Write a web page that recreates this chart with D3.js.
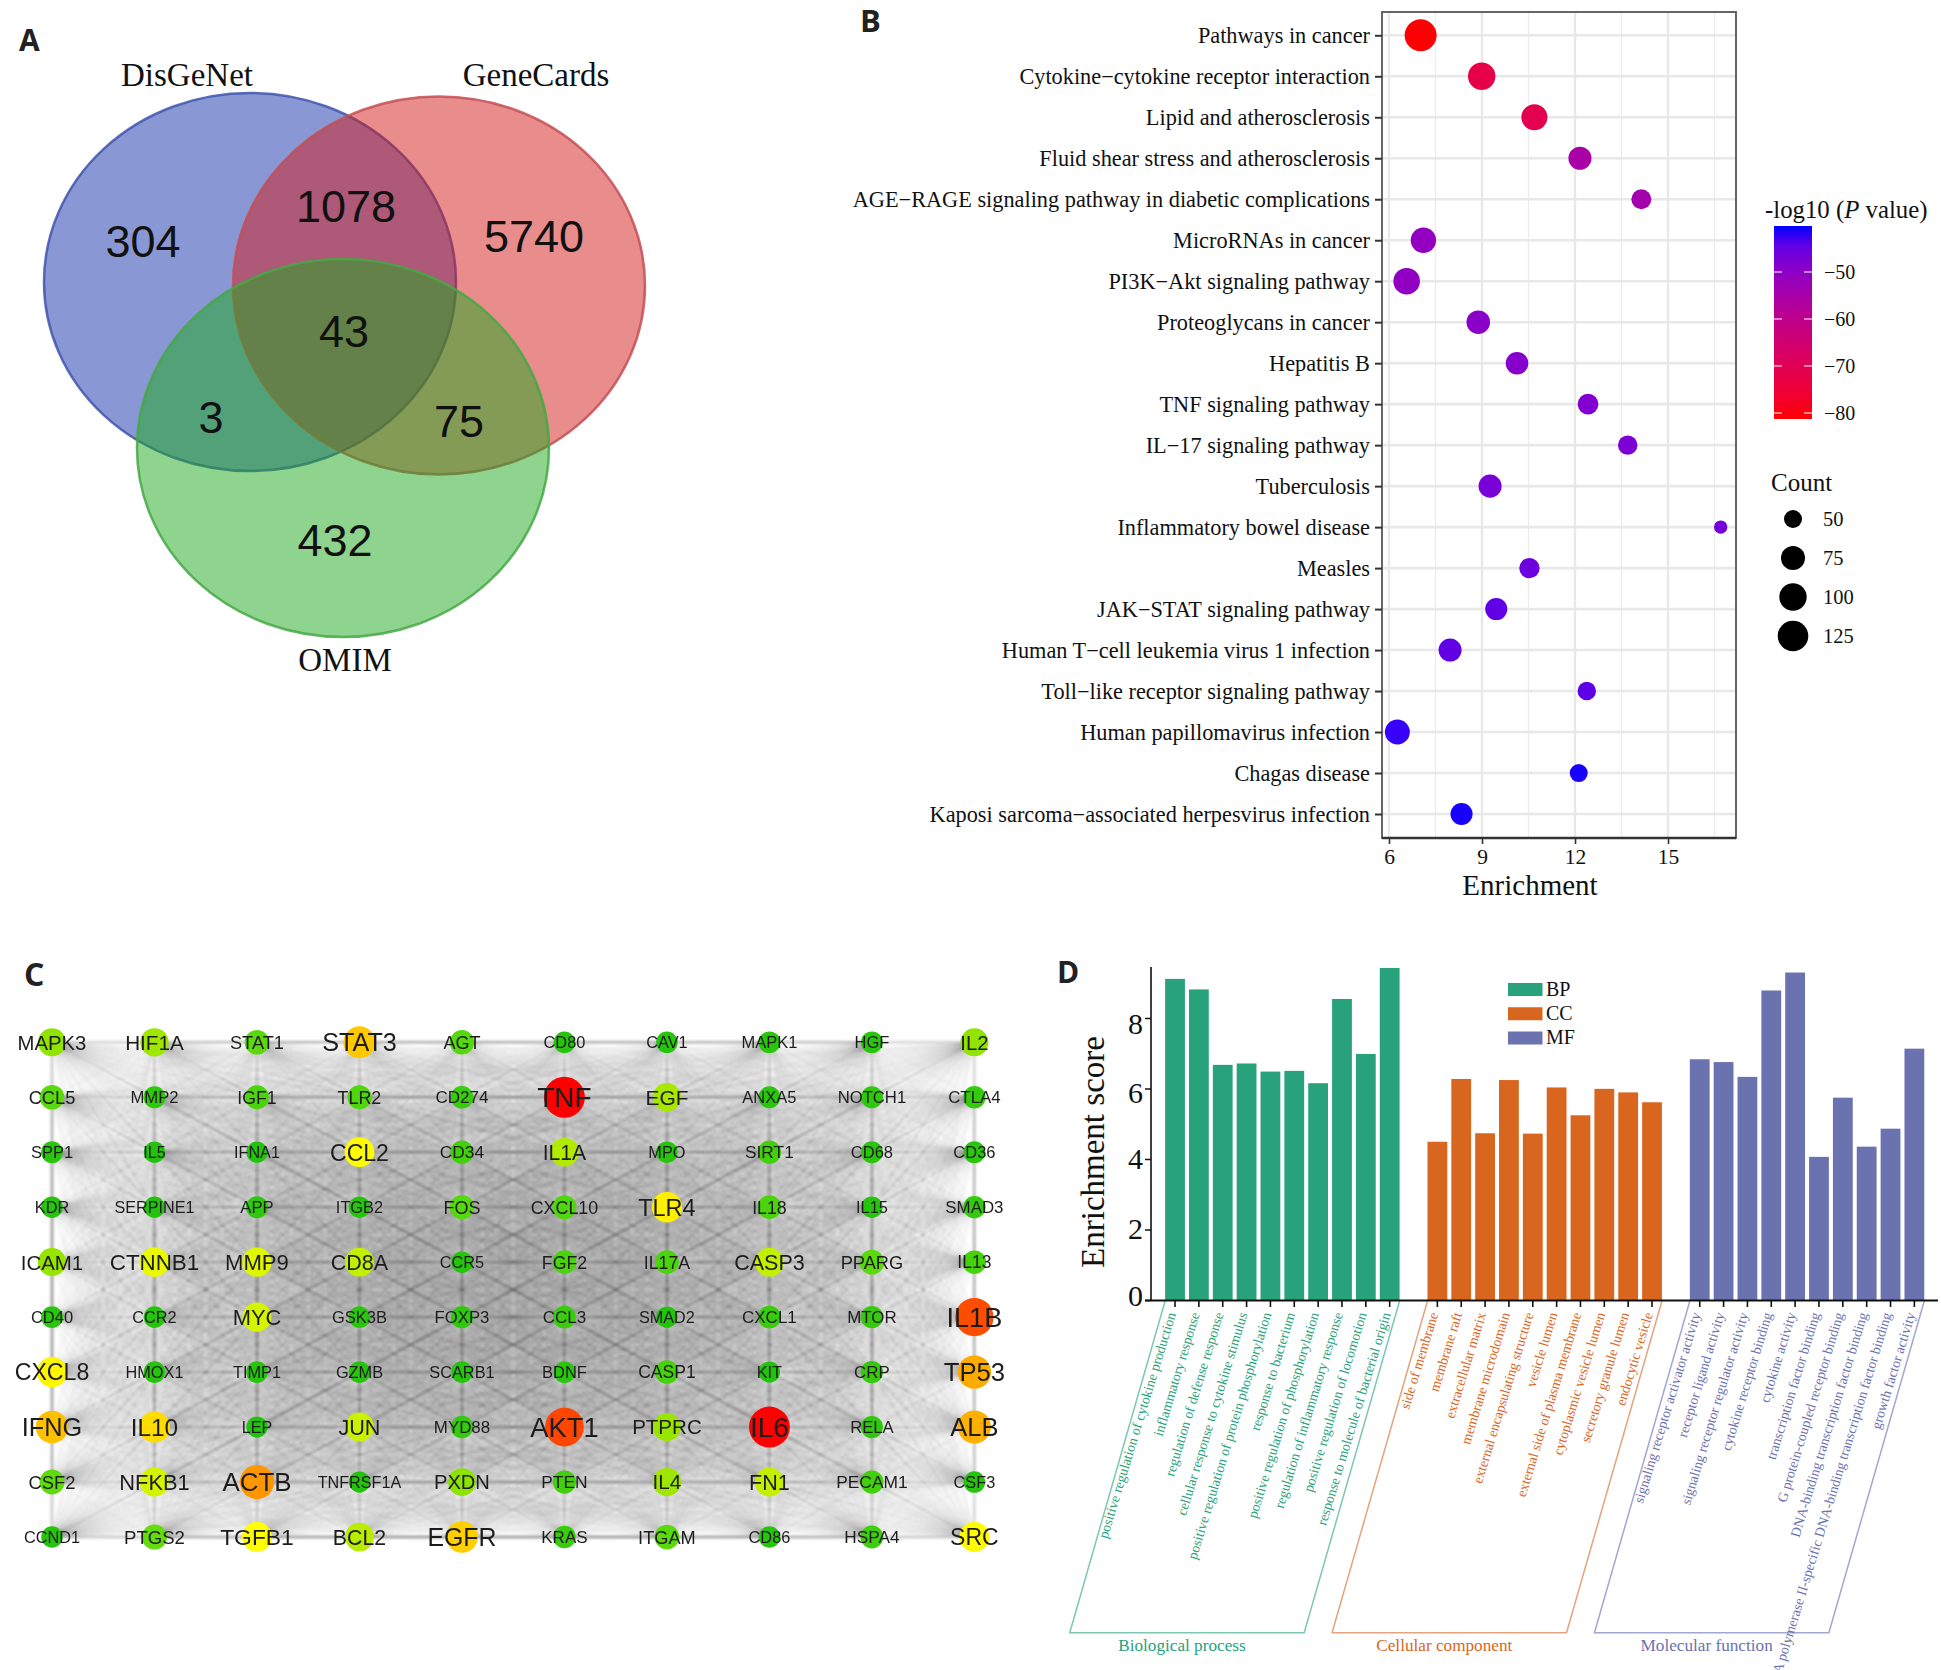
<!DOCTYPE html>
<html><head><meta charset="utf-8">
<script src="https://cdn.jsdelivr.net/npm/d3@7"></script>
<style>
html,body{margin:0;padding:0;background:#fff;overflow:hidden}
svg{display:block}
text{font-family:"Liberation Serif",serif;fill:#111}
.sans{font-family:"Liberation Sans",sans-serif}
.letter{font-family:"Open Sans",sans-serif;font-weight:700;fill:#222}
</style></head><body>
<svg id="chart" width="1941" height="1670" viewBox="0 0 1941 1670"></svg>
<script>
// ---------- Panel A data
const vennSets = ["DisGeNet","GeneCards","OMIM"];
const vennRegions = ["304","5740","432","1078","3","75","43"];
// ---------- Panel B data
const pathways = ["Pathways in cancer","Cytokine−cytokine receptor interaction","Lipid and atherosclerosis","Fluid shear stress and atherosclerosis","AGE−RAGE signaling pathway in diabetic complications","MicroRNAs in cancer","PI3K−Akt signaling pathway","Proteoglycans in cancer","Hepatitis B","TNF signaling pathway","IL−17 signaling pathway","Tuberculosis","Inflammatory bowel disease","Measles","JAK−STAT signaling pathway","Human T−cell leukemia virus 1 infection","Toll−like receptor signaling pathway","Human papillomavirus infection","Chagas disease","Kaposi sarcoma−associated herpesvirus infection"];
const enrichment = [7.02,8.99,10.69,12.16,14.14,7.11,6.57,8.88,10.13,12.42,13.7,9.26,16.7,10.53,9.46,7.97,12.38,6.27,12.12,8.34];
const counts = [135,100,90,71,58,85,94,73,69,61,56,71,32,60,67,71,52,82,50,67];
const logP = [-81,-72,-71,-55,-54,-51,-50.5,-49.5,-49,-48,-47.5,-47,-46.5,-45.5,-44.5,-44.5,-44,-41.5,-40.5,-40.5];
const enrichTicks = [6,9,12,15];
const enrichMinor = [7.5,10.5,13.5,16.5];
const colorTicks = [-50,-60,-70,-80];
const countLegend = [50,75,100,125];
// ---------- Panel C data
const geneRows = [
["MAPK3","HIF1A","STAT1","STAT3","AGT","CD80","CAV1","MAPK1","HGF","IL2"],
["CCL5","MMP2","IGF1","TLR2","CD274","TNF","EGF","ANXA5","NOTCH1","CTLA4"],
["SPP1","IL5","IFNA1","CCL2","CD34","IL1A","MPO","SIRT1","CD68","CD36"],
["KDR","SERPINE1","APP","ITGB2","FOS","CXCL10","TLR4","IL18","IL15","SMAD3"],
["ICAM1","CTNNB1","MMP9","CD8A","CCR5","FGF2","IL17A","CASP3","PPARG","IL13"],
["CD40","CCR2","MYC","GSK3B","FOXP3","CCL3","SMAD2","CXCL1","MTOR","IL1B"],
["CXCL8","HMOX1","TIMP1","GZMB","SCARB1","BDNF","CASP1","KIT","CRP","TP53"],
["IFNG","IL10","LEP","JUN","MYD88","AKT1","PTPRC","IL6","RELA","ALB"],
["CSF2","NFKB1","ACTB","TNFRSF1A","PXDN","PTEN","IL4","FN1","PECAM1","CSF3"],
["CCND1","PTGS2","TGFB1","BCL2","EGFR","KRAS","ITGAM","CD86","HSPA4","SRC"]];
const geneScores = [
[25,28,13,60,12,2,2,3,3,25],
[13,4,10,11,6,100,30,3,4,5],
[3,1,1,47,8,32,2,8,3,3],
[2,1,4,2,12,11,50,10,2,5],
[26,42,40,35,2,10,10,35,13,9],
[3,2,38,3,4,6,1,6,5,88],
[48,2,2,2,2,3,9,1,5,66],
[62,55,1,36,5,90,27,100,4,65],
[14,38,70,1,24,8,28,35,8,2],
[2,15,46,33,58,6,13,2,7,47]];
// ---------- Panel D data
const bpTerms = ["positive regulation of cytokine production","inflammatory response","regulation of defense response","cellular response to cytokine stimulus","positive regulation of protein phosphorylation","response to bacterium","positive regulation of phosphorylation","regulation of inflammatory response","positive regulation of locomotion","response to molecule of bacterial origin"];
const ccTerms = ["side of membrane","membrane raft","extracellular matrix","membrane microdomain","external encapsulating structure","vesicle lumen","external side of plasma membrane","cytoplasmic vesicle lumen","secretory granule lumen","endocytic vesicle"];
const mfTerms = ["signaling receptor activator activity","receptor ligand activity","signaling receptor regulator activity","cytokine receptor binding","cytokine activity","transcription factor binding","G protein-coupled receptor binding","DNA-binding transcription factor binding","RNA polymerase II-specific DNA-binding transcription factor binding","growth factor activity"];
const bpValues = [9.11,8.81,6.67,6.71,6.48,6.5,6.15,8.54,6.98,9.42];
const ccValues = [4.49,6.27,4.73,6.24,4.72,6.03,5.24,5.99,5.89,5.61];
const mfValues = [6.83,6.75,6.33,8.78,9.29,4.06,5.74,4.35,4.86,7.13];
const goGroups = ["BP","CC","MF"];
const goNames = ["Biological process","Cellular component","Molecular function"];
const goColors = ["#27a27b","#d9661f","#6b72b0"];
const goLight = ["#7cc8b0","#e3a37c","#a2a7d0"];
const scoreTicks = [0,2,4,6,8];

const svg = d3.select("#chart");
function letter(t,x,y,s){svg.append("text").attr("class","letter").attr("x",x).attr("y",y).attr("font-size",s).text(t);}
letter("A",19,51,30); letter("B",860,32,31); letter("C",24,986,32); letter("D",1057,983,30);

// ---------- A: Venn
(function(){
  const g = svg.append("g");
  const geom = [{cx:250,cy:282,c:"#1432aa",s:"#3f55ad"},{cx:439,cy:285.5,c:"#d21919",s:"#c44f55"},{cx:343,cy:448,c:"#1eaa1e",s:"#45a845"}];
  g.selectAll("ellipse").data(geom).join("ellipse")
    .attr("cx",d=>d.cx).attr("cy",d=>d.cy).attr("rx",206).attr("ry",189)
    .attr("fill",d=>d.c).attr("fill-opacity",.5).attr("stroke",d=>d.s).attr("stroke-width",2.5).attr("stroke-opacity",.85);
  const setPos=[[187,86],[536,86],[345,671]];
  g.selectAll("text.set").data(vennSets).join("text").attr("class","set")
    .attr("x",(d,i)=>setPos[i][0]).attr("y",(d,i)=>setPos[i][1]).attr("text-anchor","middle").attr("font-size",33).text(d=>d);
  const numPos=[[143,257],[534,252],[335,556],[346,222],[211,433],[459,437],[344,347]];
  g.selectAll("text.num").data(vennRegions).join("text").attr("class","num sans")
    .attr("x",(d,i)=>numPos[i][0]).attr("y",(d,i)=>numPos[i][1]).attr("text-anchor","middle").attr("font-size",45).text(d=>d);
})();

// ---------- B: dot plot
(function(){
  const L=1382,R=1736,T=12,B=838;
  const x=d3.scaleLinear().domain([6,15]).range([1389,1668]);
  const y=d3.scalePoint().domain(pathways).range([35.3,814]);
  const r=d3.scaleLinear().domain([32,50,75,100,125,135]).range([6.7,9,12,13.7,15.3,16]);
  const cS=d3.scaleLinear().domain([-81.3,-40.2]).range(["#ff0000","#0000ff"]).interpolate(d3.interpolateLab);
  const g=svg.append("g");
  g.selectAll("line.mn").data(enrichMinor).join("line").attr("class","mn").attr("x1",d=>x(d)).attr("x2",d=>x(d)).attr("y1",T).attr("y2",B).attr("stroke","#ececec").attr("stroke-width",1.2);
  g.selectAll("line.mj").data(enrichTicks).join("line").attr("class","mj").attr("x1",d=>x(d)).attr("x2",d=>x(d)).attr("y1",T).attr("y2",B).attr("stroke","#e8e8e8").attr("stroke-width",2.4);
  g.selectAll("line.hz").data(pathways).join("line").attr("class","hz").attr("x1",L).attr("x2",R).attr("y1",d=>y(d)).attr("y2",d=>y(d)).attr("stroke","#e8e8e8").attr("stroke-width",2.6);
  g.append("rect").attr("x",L).attr("y",T).attr("width",R-L).attr("height",B-T).attr("fill","none").attr("stroke","#555").attr("stroke-width",1.8);
  g.selectAll("circle").data(pathways).join("circle")
    .attr("cx",(d,i)=>x(enrichment[i])).attr("cy",d=>y(d)).attr("r",(d,i)=>r(counts[i])).attr("fill",(d,i)=>cS(logP[i]));
  const ya=g.append("g").attr("transform",`translate(${L},0)`).call(d3.axisLeft(y).tickSize(7).tickPadding(5));
  ya.select(".domain").remove();
  ya.selectAll("text").attr("font-size",22.3).attr("font-family","Liberation Serif").attr("fill","#111");
  ya.selectAll("line").attr("stroke","#333").attr("stroke-width",2);
  const xa=g.append("g").attr("transform",`translate(0,${B})`).call(d3.axisBottom(x).tickValues(enrichTicks).tickSize(6).tickPadding(5));
  xa.select(".domain").attr("d",`M${L},0H${R}`).attr("stroke","#333").attr("stroke-width",2.4);
  xa.selectAll("text").attr("font-size",21.5).attr("font-family","Liberation Serif").attr("fill","#111");
  xa.selectAll("line").attr("stroke","#333").attr("stroke-width",1.6);
  g.append("text").attr("x",1530).attr("y",895).attr("text-anchor","middle").attr("font-size",29).text("Enrichment");
  // colour bar
  const cy=d3.scaleLinear().domain([-50,-80]).range([272,413]);
  const defs=svg.append("defs");
  const grad=defs.append("linearGradient").attr("id","cb").attr("x1",0).attr("x2",0).attr("y1",1).attr("y2",0);
  d3.range(0,1.0001,.1).forEach(t=>grad.append("stop").attr("offset",t).attr("stop-color",cS(-81.3+t*41.1)));
  g.append("rect").attr("x",1774).attr("y",226).attr("width",38).attr("height",193).attr("fill","url(#cb)");
  const tt=g.append("text").attr("x",1765).attr("y",218).attr("font-size",24.8);
  tt.append("tspan").text("-log10 (");tt.append("tspan").attr("font-style","italic").text("P");tt.append("tspan").text(" value)");
  const ca=g.append("g").attr("transform","translate(1812,0)").call(d3.axisRight(cy).tickValues(colorTicks).tickSize(0).tickPadding(12).tickFormat(d=>"−"+Math.abs(d)));
  ca.select(".domain").remove();
  ca.selectAll("text").attr("font-size",20).attr("font-family","Liberation Serif").attr("fill","#111");
  g.selectAll("path.t").data(colorTicks).join("path").attr("class","t").attr("d",d=>`M1774,${cy(d)}h8M1804,${cy(d)}h8`).attr("stroke","#fff").attr("stroke-width",1.2);
  // size legend
  const ly=d3.scalePoint().domain(countLegend).range([519,636]);
  g.append("text").attr("x",1771).attr("y",491).attr("font-size",25).text("Count");
  g.selectAll("circle.k").data(countLegend).join("circle").attr("class","k").attr("cx",1793).attr("cy",d=>ly(d)).attr("r",d=>r(d)).attr("fill","#000");
  g.selectAll("text.k").data(countLegend).join("text").attr("class","k").attr("x",1823).attr("y",d=>ly(d)+6.5).attr("font-size",20.5).text(d=>d);
})();

// ---------- C: network
(function(){
  const col=d3.scalePoint().domain(d3.range(10)).range([52,974.4]);
  const row=d3.scalePoint().domain(d3.range(10)).range([1042.3,1537]);
  const rad=d3.scaleLinear().domain([0,25,47,60,100]).range([10.5,14,15,16,20.5]);
  const fnt=d3.scaleLinear().domain([0,25,47,60,100]).range([16,20.3,23,25.2,28]);
  const col2=d3.scaleLinear().domain([0,12,30,46,62,72,90,100]).range(["#1cc010","#55d80a","#a8e800","#ffff00","#ffc000","#ff8c00","#ff4500","#ff0000"]);
  const nodes=geneRows.flatMap((rw,i)=>rw.map((n,j)=>({n,i,j,s:geneScores[i][j]})));
  const edges=d3.merge(nodes.map((a,ia)=>nodes.slice(ia+1).map(b=>[a,b])));
  const defs=svg.select("defs");
  const fBox=f=>f.attr("x","-5%").attr("y","-5%").attr("width","110%").attr("height","110%");
  fBox(defs.append("filter").attr("id","soft")).append("feGaussianBlur").attr("stdDeviation",.55);
  fBox(defs.append("filter").attr("id","softer")).append("feGaussianBlur").attr("stdDeviation",1.4);
  g0=svg.append("g");
  g0.append("g").attr("filter","url(#softer)").attr("stroke","#4a4a4a").attr("stroke-opacity",.075).attr("stroke-width",1.3)
    .selectAll("line").data(edges).join("line")
    .attr("x1",d=>col(d[0].j)).attr("y1",d=>row(d[0].i)).attr("x2",d=>col(d[1].j)).attr("y2",d=>row(d[1].i));
  const g=g0.append("g").attr("filter","url(#soft)");
  g.selectAll("circle").data(nodes).join("circle").attr("cx",d=>col(d.j)).attr("cy",d=>row(d.i)).attr("r",d=>rad(d.s)).attr("fill",d=>col2(d.s));
  g.selectAll("text").data(nodes).join("text").attr("class","sans").attr("x",d=>col(d.j)).attr("y",d=>row(d.i)).attr("dy",".36em")
    .attr("text-anchor","middle").attr("font-size",d=>fnt(d.s)).style("fill","#1c1c1c").text(d=>d.n);
})();

// ---------- D: bars
(function(){
  const terms=[...bpTerms,"_a",...ccTerms,"_b",...mfTerms];
  const x=d3.scaleBand().domain(terms).range([1163.1,1926.3]).paddingInner(.17).paddingOuter(.085);
  const y=d3.scaleLinear().domain([0,8]).range([1300,1018]);
  const groups=[{t:bpTerms,v:bpValues},{t:ccTerms,v:ccValues},{t:mfTerms,v:mfValues}];
  const g=svg.append("g");
  groups.forEach((gr,gi)=>{
    g.append("g").selectAll("rect").data(gr.t).join("rect")
      .attr("x",d=>x(d)).attr("width",x.bandwidth()).attr("y",(d,i)=>y(gr.v[i])).attr("height",(d,i)=>y(0)-y(gr.v[i])).attr("fill",goColors[gi]);
    const x0=x(gr.t[0]), x1=x(gr.t[9])+x.bandwidth();
    g.append("path").attr("d",`M${x0},1301L${x0-95.4},1632.7H${x1-95.4}L${x1},1301`).attr("fill","none").attr("stroke",goLight[gi]).attr("stroke-width",1.5);
    g.append("g").selectAll("text").data(gr.t).join("text")
      .attr("transform",d=>`translate(${x(d)+x.bandwidth()/2+1},1314) rotate(-73)`)
      .attr("text-anchor","end").attr("font-size",14).style("fill",goColors[gi]).text(d=>d);
    g.append("text").attr("x",(x0+x1)/2-100.4).attr("y",1651).attr("text-anchor","middle").attr("font-size",17.2).style("fill",goColors[gi]).text(goNames[gi]);
    g.append("g").selectAll("line").data(gr.t).join("line").attr("x1",d=>x(d)+x.bandwidth()/2).attr("x2",d=>x(d)+x.bandwidth()/2).attr("y1",1300).attr("y2",1307).attr("stroke","#111").attr("stroke-width",1.6);
  });
  g.append("line").attr("x1",1145).attr("x2",1938).attr("y1",1300.5).attr("y2",1300.5).attr("stroke","#111").attr("stroke-width",2);
  const ya=g.append("g").attr("transform","translate(1151,0)").call(d3.axisLeft(y).tickValues(scoreTicks).tickSize(6).tickPadding(2).tickFormat(d3.format("d")));
  ya.select(".domain").attr("d","M0,967V1300").attr("stroke","#111").attr("stroke-width",1.6);
  ya.selectAll("line").attr("stroke","#111").attr("stroke-width",1.5);
  const labelNudge={0:-4.5,2:-.7,4:0,6:4.3,8:5.5};
  ya.selectAll("text").attr("font-size",30).attr("font-family","Liberation Serif").attr("fill","#111").attr("y",d=>labelNudge[d]);
  g.append("text").attr("transform","translate(1104,1152) rotate(-90)").attr("text-anchor","middle").attr("font-size",33).text("Enrichment score");
  const ly=d3.scalePoint().domain(goGroups).range([989.5,1038]);
  g.selectAll("rect.lg").data(goGroups).join("rect").attr("class","lg").attr("x",1508).attr("width",34.5).attr("y",d=>ly(d)-6.5).attr("height",13).attr("fill",(d,i)=>goColors[i]);
  g.selectAll("text.lg").data(goGroups).join("text").attr("class","lg").attr("x",1546).attr("y",d=>ly(d)+6).attr("font-size",20).text(d=>d);
})();
</script>
</body></html>
